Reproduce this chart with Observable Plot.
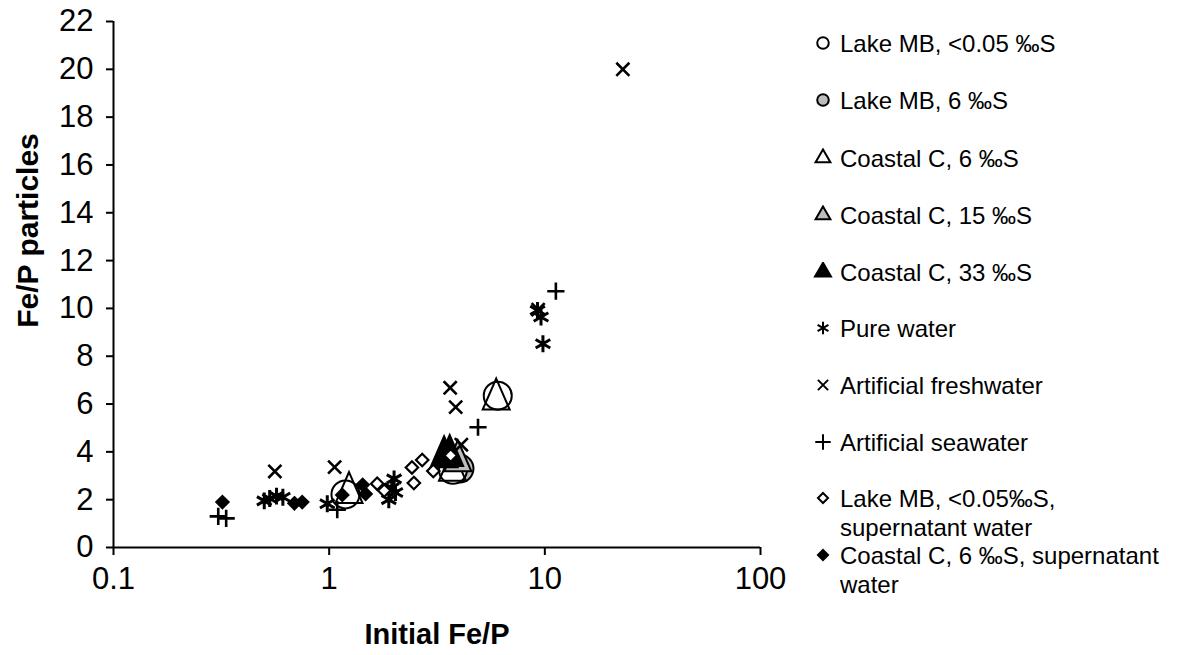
<!DOCTYPE html>
<html>
<head>
<meta charset="utf-8">
<script src="https://cdn.jsdelivr.net/npm/d3@7"></script>
<script src="https://cdn.jsdelivr.net/npm/@observablehq/plot@0.6"></script>
<style>
  body { margin: 0; background: #fff; font-family: "Liberation Sans", Arial, sans-serif; }
  #wrap { position: relative; width: 1177px; height: 655px; overflow: hidden; }
  #chart { position: absolute; left: 0; top: 0; }
  .lg { position: absolute; font-size: 24px; line-height: 29px; color: #000; white-space: nowrap; }
  .lgsym { position: absolute; }
</style>
</head>
<body>
<div id="wrap"><div id="chart"></div><div id="legend"></div></div>
<script>
// ---- Data ----
const seriesNames = [
  "Lake MB, <0.05 ‰S",
  "Lake MB, 6 ‰S",
  "Coastal C, 6 ‰S",
  "Coastal C, 15 ‰S",
  "Coastal C, 33 ‰S",
  "Pure water",
  "Artificial freshwater",
  "Artificial seawater",
  "Lake MB, <0.05‰S,\nsupernatant water",
  "Coastal C, 6 ‰S, supernatant\nwater"
];
const lakeMB005 = [[1.19, 2.22], [3.75, 3.25], [6.05, 6.35]];
const lakeMB6 = [[4.02, 3.3]];
const coastal6 = [[1.236, 2.29], [3.73, 3.22], [5.95, 6.2]];
const coastal15 = [[3.95, 3.62]];
const coastal33 = [[3.41, 3.79], [3.62, 3.84]];
const pureWater = [[0.50, 1.95], [0.53, 2.05], [0.57, 2.15], [0.61, 2.1], [0.98, 1.83],
                   [1.89, 2.0], [1.95, 2.5], [2.0, 2.87], [2.03, 2.3], [9.25, 9.92], [9.6, 9.64], [9.8, 8.52]];
const artFresh = [[0.56, 3.18], [1.06, 3.36], [3.64, 6.68], [3.86, 5.87], [4.1, 4.3], [9.31, 9.95], [23.0, 20.0]];
const artSea = [[0.306, 1.3], [0.333, 1.22], [1.09, 1.58], [4.9, 5.03], [11.25, 10.72]];
const lakeMBsup = [[1.67, 2.67], [1.8, 2.38], [2.42, 3.35], [2.47, 2.7], [2.7, 3.66], [3.04, 3.2], [3.66, 3.85]];
const coastalSup = [[0.32, 1.9], [0.69, 1.85], [0.75, 1.9], [1.15, 2.2], [1.43, 2.62], [1.476, 2.24]];

const xTicks = [0.1, 1, 10, 100];
const xTickLabels = ["0.1", "1", "10", "100"];
const yTicks = [0, 2, 4, 6, 8, 10, 12, 14, 16, 18, 20, 22];
const xTitle = "Initial Fe/P";
const yTitle = "Fe/P particles";

// ---- Helpers ----
const toRows = arr => arr.map(([x, y]) => ({x, y}));
const tallTriangle = {
  draw(ctx, size) {
    const s = Math.sqrt(size);
    const h = 1.46 * s, w = 1.27 * s;
    ctx.moveTo(0, -2 * h / 3);
    ctx.lineTo(w / 2, h / 3);
    ctx.lineTo(-w / 2, h / 3);
    ctx.closePath();
  }
};
const GRAY = "#bdbdbd";
const dot = (arr, symbol, r, fill, stroke, sw) =>
  Plot.dot(toRows(arr), {x: "x", y: "y", symbol, r, fill, stroke, strokeWidth: sw});

const font = "'Liberation Sans', Arial, sans-serif";

const chart = Plot.plot({
  width: 800,
  height: 655,
  marginLeft: 113,
  marginRight: 40,
  marginTop: 21,
  marginBottom: 108,
  style: {fontFamily: font, fontSize: "31px", color: "#000", background: "transparent"},
  x: {type: "log", domain: [0.1, 100]},
  y: {domain: [0, 22]},
  marks: [
    Plot.axisY({ticks: yTicks, tickSize: 7, tickPadding: 13, strokeWidth: 2, fontSize: 31, label: null}),
    Plot.axisX({ticks: xTicks, tickSize: 8, tickPadding: 11, strokeWidth: 2, fontSize: 31, label: null,
                tickFormat: d => xTickLabels[xTicks.indexOf(d)]}),
    Plot.ruleX([0.1], {stroke: "#000", strokeWidth: 2}),
    Plot.ruleY([0], {stroke: "#000", strokeWidth: 2}),
    dot(lakeMB6, "circle", 14, GRAY, "#000", 2),
    dot(lakeMB005, "circle", 14, "#fff", "#000", 2),
    dot(coastal6, tallTriangle, 12, "none", "#000", 2),
    dot(coastal15, tallTriangle, 12, GRAY, "#000", 2),
    dot(coastal33, tallTriangle, 12, "#000", "#000", 2),
    dot(pureWater, "asterisk", 8, "none", "#000", 3),
    dot(artFresh, "times", 6, "none", "#000", 2.6),
    dot(artSea, "plus", 5.6, "none", "#000", 2.6),
    dot(lakeMBsup, "diamond2", 5.6, "#fff", "#000", 2.2),
    dot(coastalSup, "diamond2", 5.6, "#000", "#000", 2),
    Plot.text([xTitle], {text: d => d, frameAnchor: "bottom", dy: 87, lineAnchor: "middle",
                         fontWeight: "bold", fontSize: 29}),
    Plot.text([yTitle], {text: d => d, frameAnchor: "top-left", dx: -85, dy: 209, rotate: -90,
                         textAnchor: "middle", lineAnchor: "middle", fontWeight: "bold", fontSize: 30})
  ]
});
document.getElementById("chart").appendChild(chart);

// ---- Legend (HTML beside the SVG) ----
const legendSymbols = [
  {symbol: d3.symbolCircle, size: 105, fill: "#fff", stroke: "#000"},
  {symbol: d3.symbolCircle, size: 105, fill: GRAY, stroke: "#000"},
  {symbol: d3.symbolTriangle, size: 95, fill: "#fff", stroke: "#000"},
  {symbol: d3.symbolTriangle, size: 95, fill: GRAY, stroke: "#000"},
  {symbol: d3.symbolTriangle, size: 110, fill: "#000", stroke: "#000"},
  {symbol: d3.symbolAsterisk, size: 110, fill: "none", stroke: "#000"},
  {symbol: d3.symbolTimes, size: 70, fill: "none", stroke: "#000"},
  {symbol: d3.symbolPlus, size: 80, fill: "none", stroke: "#000"},
  {symbol: d3.symbolDiamond2, size: 65, fill: "#fff", stroke: "#000"},
  {symbol: d3.symbolDiamond2, size: 65, fill: "#000", stroke: "#000"}
];
const legendY = [43, 100, 158, 215, 272, 328, 385, 442, 498, 555];
const legend = document.getElementById("legend");
seriesNames.forEach((name, i) => {
  const yc = legendY[i];
  const s = legendSymbols[i];
  const svg = d3.create("svg").attr("class", "lgsym").attr("width", 20).attr("height", 20)
    .style("left", "813px").style("top", (yc - 10) + "px");
  svg.append("path").attr("transform", "translate(10,10)")
    .attr("d", d3.symbol(s.symbol, s.size)())
    .attr("fill", s.fill).attr("stroke", s.stroke).attr("stroke-width", 2);
  legend.appendChild(svg.node());
  name.split("\n").forEach((line, j) => {
    const div = document.createElement("div");
    div.className = "lg";
    div.style.left = "840px";
    div.style.top = (yc - 14.5 + j * 29) + "px";
    div.textContent = line;
    legend.appendChild(div);
  });
});
</script>
</body>
</html>
